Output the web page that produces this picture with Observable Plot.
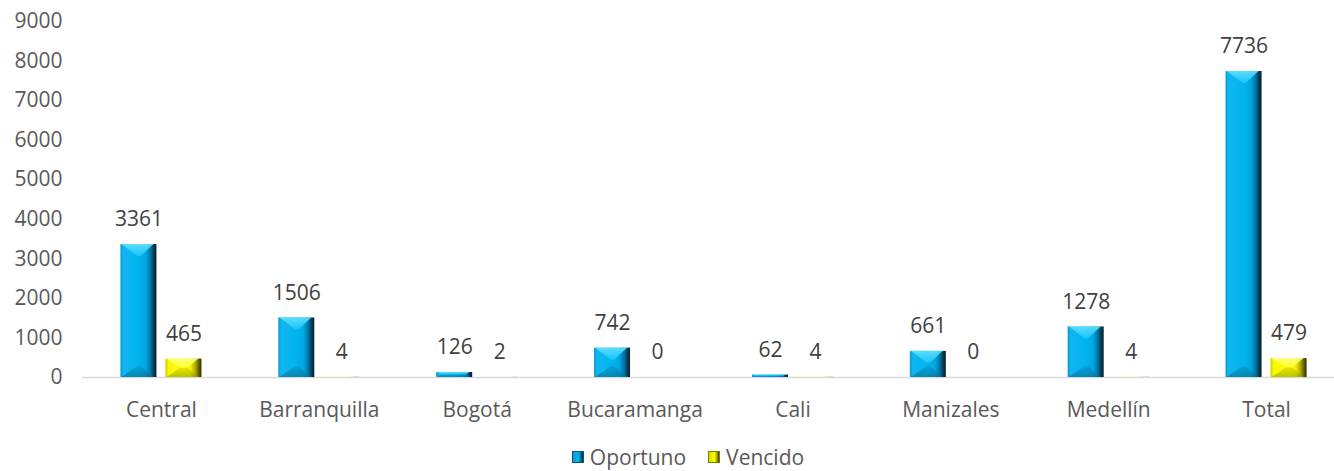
<!DOCTYPE html>
<html><head><meta charset="utf-8">
<script src="https://cdn.jsdelivr.net/npm/d3@7"></script>
<script src="https://cdn.jsdelivr.net/npm/@observablehq/plot@0.6"></script>
<style>
html,body{margin:0;padding:0;background:#fff;}
body{font-family:"Open Sans",sans-serif;width:1334px;height:471px;overflow:hidden;}
#legend{display:flex;justify-content:center;align-items:center;gap:22px;padding-top:5px;height:24px;line-height:24px;font-size:21px;color:#595959;padding-left:42px;}
.item{display:flex;align-items:center;gap:6px;}
.sw{width:12px;height:12px;box-sizing:border-box;}
</style></head><body>
<div id="chart"></div>
<div id="legend"></div>
<script>
const categories = ["Central","Barranquilla","Bogotá","Bucaramanga","Cali","Manizales","Medellín","Total"];
const seriesNames = ["Oportuno","Vencido"];
const oportuno = [3361,1506,126,742,62,661,1278,7736];
const vencido = [465,4,2,0,4,0,4,479];
const yTicks = [0,1000,2000,3000,4000,5000,6000,7000,8000,9000];

const data = categories.flatMap((c,i)=>[
  {category:c, series:seriesNames[0], value:oportuno[i]},
  {category:c, series:seriesNames[1], value:vencido[i]}
]);
const dOp = data.filter(d=>d.series===seriesNames[0]);
const dVe = data.filter(d=>d.series===seriesNames[1]);

const plot = Plot.plot({
  width:1334, height:440,
  marginTop:21, marginBottom:63, marginLeft:82, marginRight:0,
  style:{fontFamily:"'Open Sans', sans-serif", fontSize:"21px", background:"#fff", overflow:"hidden"},
  fx:{domain:categories, padding:0, label:null, range:[82,1345], round:false},
  x:{domain:seriesNames, paddingInner:0.2, paddingOuter:0.854, axis:null, round:false},
  y:{domain:[0,9000], axis:null},
  marks:[
    Plot.ruleY([0], {stroke:"#d9d9d9", strokeWidth:1.3}),
    Plot.barY(dOp, {fx:"category", x:"series", y:"value", fill:"url(#gOp)", ariaDescription:"bar-op"}),
    Plot.barY(dVe, {fx:"category", x:"series", y:"value", fill:"url(#gVe)", ariaDescription:"bar-ve"}),
    Plot.text(data, {fx:"category", x:"series", y:"value", text:d=>String(d.value), dy:-25, fill:"#404040", fontSize:21}),
    Plot.axisY({ticks:yTicks, tickSize:0, tickPadding:20, tickFormat:d=>String(d), fill:"#595959", label:null, fontSize:21}),
    Plot.axisFx({anchor:"bottom", tickSize:0, tickPadding:25, label:null, fill:"#595959", fontSize:21})
  ]
});

// gradients
const svg = d3.select(plot);
const defs = svg.insert("defs", ":first-child");
function grad(id, stops, vertical){
  const g = defs.append("linearGradient").attr("id", id)
    .attr("x1",0).attr("x2",vertical?0:1).attr("y1",0).attr("y2",vertical?1:0);
  stops.forEach(([o,c])=>g.append("stop").attr("offset",o).attr("stop-color",c));
}
grad("gOp", [[0,"#0896cc"],[0.08,"#10b6f0"],[0.5,"#00b4f0"],[0.7,"#00a8e2"],[0.84,"#0072a2"],[0.94,"#0a3448"],[1,"#08202c"]]);
grad("gVe", [[0,"#c8c800"],[0.08,"#f8f800"],[0.5,"#ffff00"],[0.7,"#f2f200"],[0.84,"#a4a400"],[0.94,"#555500"],[1,"#303000"]]);
grad("gOpTop", [[0,"#6ae4ff"],[1,"#1cc6fa"]], true);
grad("gOpBot", [[0,"#0a94c8"],[1,"#066a92"]], true);
grad("gVeTop", [[0,"#ffff90"],[1,"#ffff30"]], true);
grad("gVeBot", [[0,"#d4d400"],[1,"#9a9a00"]], true);

const bevels = {
  "bar-op": {top:"url(#gOpTop)", bottom:"url(#gOpBot)"},
  "bar-ve": {top:"url(#gVeTop)", bottom:"url(#gVeBot)"}
};
Object.entries(bevels).forEach(([lab, col])=>{
  plot.querySelectorAll(`g[aria-description="${lab}"] rect`).forEach(r=>{
    const x=+r.getAttribute("x"), y=+r.getAttribute("y"), w=+r.getAttribute("width"), h=+r.getAttribute("height");
    if (!(h>0.5)) return;
    const t=Math.min(12,h/2), b=Math.min(11,h/2);
    const cxT = Math.min(w/2-2, t*1.5), cxB = Math.min(w/2-2, b*1.5);
    const p = r.parentNode;
    const poly = (pts, fill, op)=>{
      const e = document.createElementNS("http://www.w3.org/2000/svg","polygon");
      e.setAttribute("points", pts.map(q=>q.join(",")).join(" "));
      e.setAttribute("fill", fill);
      e.setAttribute("fill-opacity", op);
      p.appendChild(e);
    };
    poly([[x+1,y],[x+w-3,y],[x+w-3-cxT*0.8,y+t],[x+1+cxT,y+t]], col.top, 0.85);
    poly([[x+1,y+h],[x+w-3,y+h],[x+w-3-cxB*0.8,y+h-b],[x+1+cxB,y+h-b]], col.bottom, 0.6);
  });
});

document.getElementById("chart").appendChild(plot);

// legend
const legendItems = [
  {name:seriesNames[0], bg:"linear-gradient(90deg,#0a9ad0,#00b4f0 55%,#005a7c 85%,#0c2432)", border:"#0a5a7c"},
  {name:seriesNames[1], bg:"linear-gradient(90deg,#d6d600,#ffff00 55%,#8a8a00 85%,#383800)", border:"#7a7a00"}
];
const lg = d3.select("#legend");
legendItems.forEach(it=>{
  const d = lg.append("div").attr("class","item");
  d.append("div").attr("class","sw").style("background",it.bg).style("border","1px solid "+it.border);
  d.append("span").text(it.name);
});
</script>
</body></html>
